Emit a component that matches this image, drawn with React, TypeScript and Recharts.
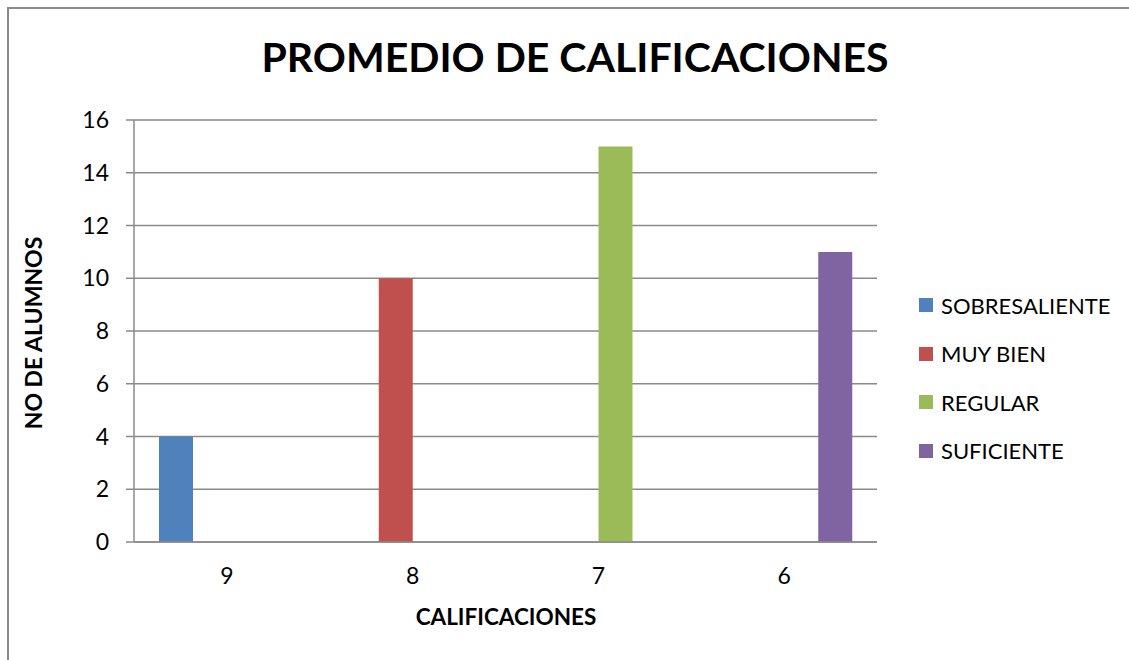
import React from 'react';
import { BarChart, Bar, XAxis, YAxis, CartesianGrid, Legend } from 'recharts';

const categories = ['9', '8', '7', '6'];
const sobresaliente = [4, null, null, null];
const muyBien = [null, 10, null, null];
const regular = [null, null, 15, null];
const suficiente = [null, null, null, 11];
const yTicks = [0, 2, 4, 6, 8, 10, 12, 14, 16];
const seriesKeys = ['s0', 's1', 's2', 's3'];
const seriesNames = ['SOBRESALIENTE', 'MUY BIEN', 'REGULAR', 'SUFICIENTE'];
const seriesColors = ['#4F81BD', '#C0504D', '#9BBB59', '#8064A2'];

const data = categories.map((c, i) => ({
  cat: c,
  s0: sobresaliente[i],
  s1: muyBien[i],
  s2: regular[i],
  s3: suficiente[i],
}));

const FONT = 'Lato, "Open Sans", sans-serif';
const GRID = '#8a8a8a';

const renderLegend = () => (
  <div style={{ fontFamily: FONT, fontSize: 22, color: '#000' }}>
    {seriesNames.map((n, i) => (
      <div key={n} style={{ height: 48.5, display: 'flex', alignItems: 'center' }}>
        <span style={{ display: 'inline-block', width: 14, height: 14, background: seriesColors[i], marginRight: 8 }} />
        <span style={{ lineHeight: '23px' }}>{n}</span>
      </div>
    ))}
  </div>
);

export default function App() {
  return (
    <div style={{ position: 'absolute', left: 0, top: 0, width: 1129, height: 660, background: '#fff', overflow: 'hidden', fontFamily: FONT }}>
      <div style={{ position: 'absolute', left: 7, top: 7, width: 1122, height: 653, borderTop: `2px solid ${GRID}`, borderLeft: `2px solid ${GRID}`, boxSizing: 'border-box' }} />
      <div style={{ position: 'absolute', left: 0, width: 1150, top: 31, textAlign: 'center', fontWeight: 700, fontSize: 41, lineHeight: '52px', color: '#000' }}>
        PROMEDIO DE CALIFICACIONES
      </div>
      <div style={{ position: 'absolute', left: 33, top: 333, transform: 'translate(-50%, -50%) rotate(-90deg)', whiteSpace: 'nowrap', fontWeight: 700, fontSize: 23, lineHeight: '26px', color: '#000' }}>
        NO DE ALUMNOS
      </div>
      <div style={{ position: 'absolute', left: 506, top: 617, transform: 'translate(-50%, -50%)', whiteSpace: 'nowrap', fontWeight: 700, fontSize: 22.5, lineHeight: '26px', color: '#000' }}>
        CALIFICACIONES
      </div>
      <div style={{ position: 'absolute', left: 0, top: 0 }}>
        <BarChart
          width={1129}
          height={660}
          data={data}
          margin={{ top: 120, right: 252, bottom: 58, left: 74 }}
          barCategoryGap={25}
          barGap={0}
        >
          <CartesianGrid horizontal vertical={false} stroke={GRID} strokeWidth={1.5} />
          <XAxis
            dataKey="cat"
            height={60}
            axisLine={{ stroke: GRID, strokeWidth: 1.5 }}
            tickLine={false}
            tickSize={0}
            tickMargin={26}
            tick={{ fill: '#000', fontSize: 23, fontFamily: FONT }}
          />
          <YAxis
            width={60}
            domain={[0, 16]}
            ticks={yTicks}
            interval={0}
            axisLine={{ stroke: GRID, strokeWidth: 1.5 }}
            tickLine={{ stroke: GRID, strokeWidth: 1.5 }}
            tickSize={8}
            tickMargin={17}
            tick={{ fill: '#000', fontSize: 23, fontFamily: FONT }}
          />
          <Legend
            layout="horizontal"
            verticalAlign="middle"
            align="center"
            content={renderLegend}
            wrapperStyle={{ left: 919, top: 281, width: 210 }}
          />
          {seriesKeys.map((k, i) => (
            <Bar key={k} dataKey={k} name={seriesNames[i]} fill={seriesColors[i]} isAnimationActive={false} />
          ))}
        </BarChart>
      </div>
    </div>
  );
}
